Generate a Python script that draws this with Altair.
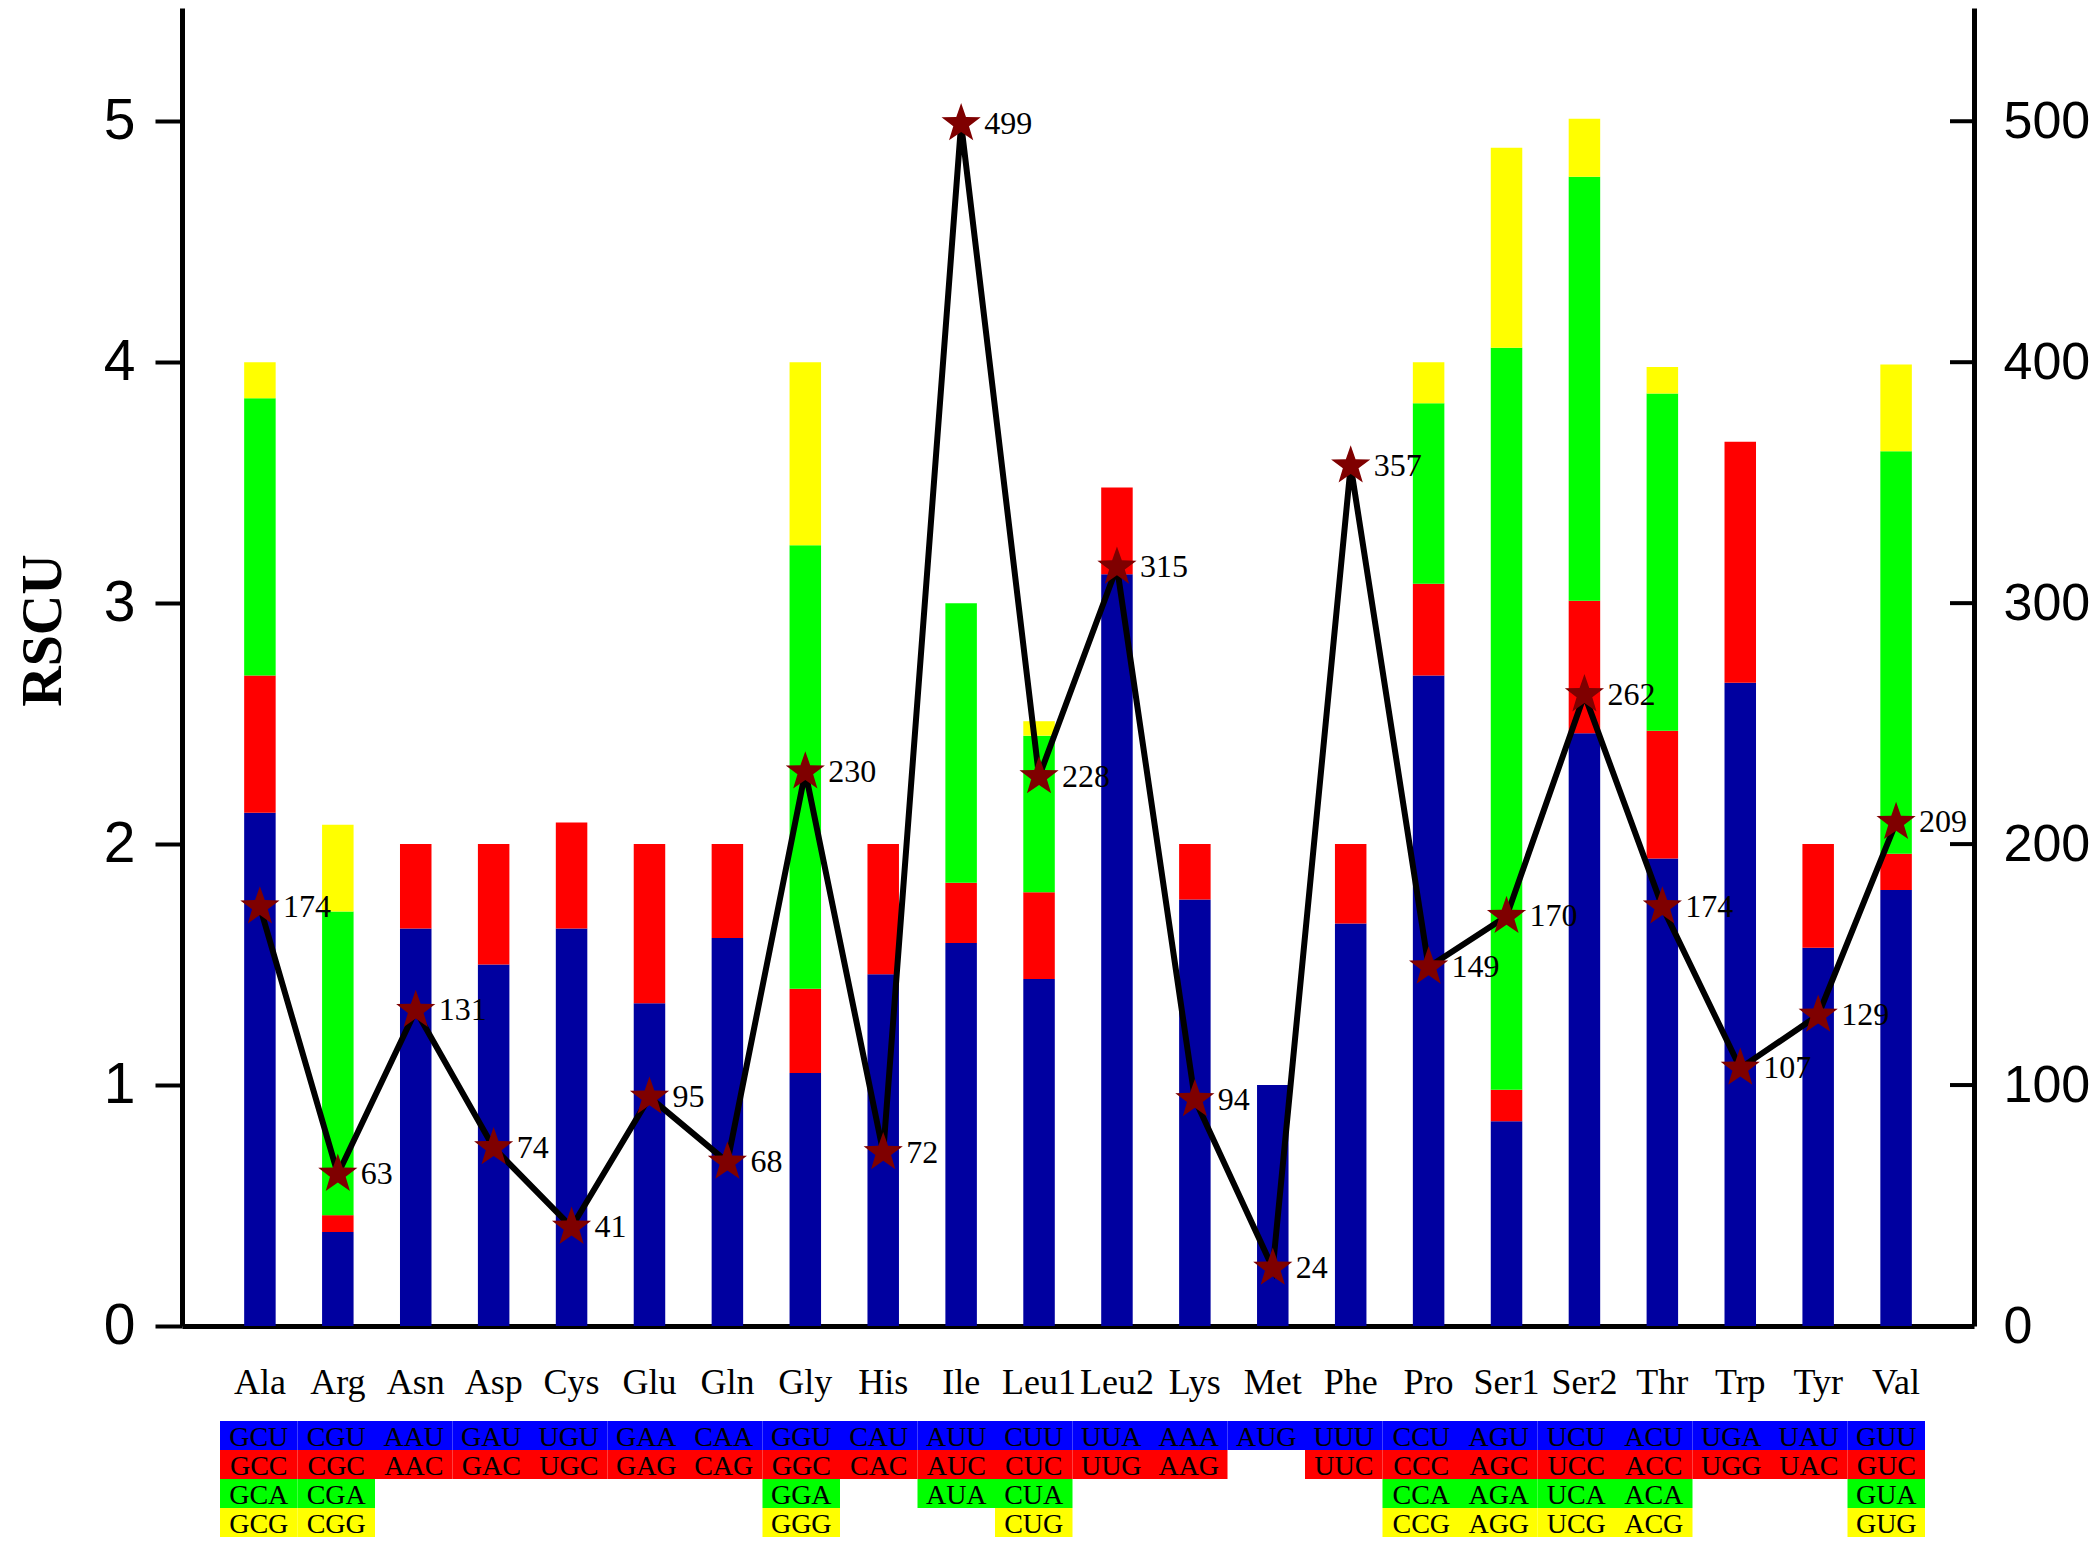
import math
import altair as alt
import pandas as pd

amino_acids = ["Ala", "Arg", "Asn", "Asp", "Cys", "Glu", "Gln", "Gly", "His", "Ile",
               "Leu1", "Leu2", "Lys", "Met", "Phe", "Pro", "Ser1", "Ser2", "Thr",
               "Trp", "Tyr", "Val"]

codons_1 = ["GCU", "CGU", "AAU", "GAU", "UGU", "GAA", "CAA", "GGU", "CAU", "AUU", "CUU",
            "UUA", "AAA", "AUG", "UUU", "CCU", "AGU", "UCU", "ACU", "UGA", "UAU", "GUU"]
codons_2 = ["GCC", "CGC", "AAC", "GAC", "UGC", "GAG", "CAG", "GGC", "CAC", "AUC", "CUC",
            "UUG", "AAG", "", "UUC", "CCC", "AGC", "UCC", "ACC", "UGG", "UAC", "GUC"]
codons_3 = ["GCA", "CGA", "", "", "", "", "", "GGA", "", "AUA", "CUA",
            "", "", "", "", "CCA", "AGA", "UCA", "ACA", "", "", "GUA"]
codons_4 = ["GCG", "CGG", "", "", "", "", "", "GGG", "", "", "CUG",
            "", "", "", "", "CCG", "AGG", "UCG", "ACG", "", "", "GUG"]

rscu_1 = [2.13, 0.39, 1.65, 1.50, 1.65, 1.34, 1.61, 1.05, 1.46, 1.59, 1.44,
          3.12, 1.77, 1.00, 1.67, 2.70, 0.85, 2.46, 1.94, 2.67, 1.57, 1.81]
rscu_2 = [0.57, 0.07, 0.35, 0.50, 0.44, 0.66, 0.39, 0.35, 0.54, 0.25, 0.36,
          0.36, 0.23, 0.00, 0.33, 0.38, 0.13, 0.55, 0.53, 1.00, 0.43, 0.15]
rscu_3 = [1.15, 1.26, 0, 0, 0, 0, 0, 1.84, 0, 1.16, 0.65,
          0, 0, 0, 0, 0.75, 3.08, 1.76, 1.40, 0, 0, 1.67]
rscu_4 = [0.15, 0.36, 0, 0, 0, 0, 0, 0.76, 0, 0, 0.06,
          0, 0, 0, 0, 0.17, 0.83, 0.24, 0.11, 0, 0, 0.36]

counts = [174, 63, 131, 74, 41, 95, 68, 230, 72, 499, 228,
          315, 94, 24, 357, 149, 170, 262, 174, 107, 129, 209]

right_ticks = [0, 100, 200, 300, 400, 500]
left_ticks = [0, 1, 2, 3, 4, 5]

bar_colors = ["#0000A0", "#FF0000", "#00FF00", "#FFFF00"]
table_colors = ["#0000FF", "#FF0000", "#00FF00", "#FFFF00"]

codon_rows = [codons_1, codons_2, codons_3, codons_4]
rscu_rows = [rscu_1, rscu_2, rscu_3, rscu_4]

bar_records, tab_records = [], []
for i, aa in enumerate(amino_acids):
    for p in range(4):
        if rscu_rows[p][i] > 0:
            bar_records.append({"aa": aa, "pos": p, "rscu": rscu_rows[p][i]})
        if codon_rows[p][i]:
            tab_records.append({"aa2": aa, "row": p, "codon": codon_rows[p][i]})
bar_df = pd.DataFrame(bar_records)
tab_df = pd.DataFrame(tab_records)
cnt_df = pd.DataFrame({"aa": amino_acids, "count": counts})
tick_df = pd.DataFrame({"v": right_ticks})

# five-pointed star symbol path in the unit box
pts = []
for k in range(10):
    ang = -math.pi / 2 + k * math.pi / 5
    r = 1.0 if k % 2 == 0 else 0.40
    pts.append(f"{r * math.cos(ang):.4f},{r * math.sin(ang):.4f}")
star_path = "M" + " L".join(pts) + " Z"

W, H = 1792, 1318

xs = alt.X("aa:N", sort=amino_acids,
           scale=alt.Scale(domain=amino_acids, paddingInner=0, paddingOuter=0.5),
           axis=alt.Axis(title=None, labelAngle=0, labelFont="Liberation Serif",
                         labelFontSize=36, labelColor="black", labelPadding=67,
                         labelBaseline="alphabetic", ticks=False, tickSize=0,
                         domainColor="black", domainWidth=5, grid=False))

left_axis = alt.Axis(values=left_ticks, title="RSCU", titleFont="Liberation Serif",
                     titleFontWeight="bold", titleFontSize=56, titleColor="black",
                     titlePadding=31, titleY=622, labelFont="Liberation Sans",
                     labelFontSize=57, labelColor="black", labelPadding=20,
                     tickSize=27, tickWidth=4, tickColor="black",
                     domainColor="black", domainWidth=5, grid=False)

bars = alt.Chart(bar_df).mark_bar(width=31.5).encode(
    x=xs,
    y=alt.Y("rscu:Q", stack="zero",
            scale=alt.Scale(domain=[0, 5.47], nice=False), axis=left_axis),
    color=alt.Color("pos:N", scale=alt.Scale(domain=[0, 1, 2, 3], range=bar_colors),
                    legend=None),
    order=alt.Order("pos:Q", sort="ascending"),
)

right_scale = alt.Scale(domain=[0, 547], nice=False)
right_axis = alt.Axis(orient="right", values=right_ticks, title=None, ticks=False,
                      tickSize=0, labelPadding=29, labelFont="Liberation Sans",
                      labelFontSize=52, labelColor="black", domainColor="black",
                      domainWidth=5, grid=False)

rticks = alt.Chart(tick_df).mark_rule(color="black", strokeWidth=4).encode(
    x=alt.value(W - 24), x2=alt.value(W),
    y=alt.Y("v:Q", scale=right_scale, axis=right_axis))
line = alt.Chart(cnt_df).mark_line(color="black", strokeWidth=6).encode(
    x=xs, y=alt.Y("count:Q", scale=right_scale, axis=right_axis))
stars = alt.Chart(cnt_df).mark_point(shape=star_path, filled=True, size=1700,
                                     color="#7F0000", opacity=1, strokeWidth=0).encode(
    x=xs, y=alt.Y("count:Q", scale=right_scale, axis=right_axis))
labels = alt.Chart(cnt_df).mark_text(align="left", baseline="middle", dx=23,
                                     font="Liberation Serif", fontSize=32,
                                     color="black").encode(
    x=xs, y=alt.Y("count:Q", scale=right_scale, axis=right_axis), text="count:Q")

right = alt.layer(rticks, line, stars, labels)
top = alt.layer(bars, right).resolve_scale(y="independent").properties(width=W, height=H)

tbase = alt.Chart(tab_df).encode(
    x=alt.X("aa2:N", scale=alt.Scale(domain=amino_acids, range=[38, 1743],
                                     paddingInner=0, paddingOuter=0), axis=None),
    y=alt.Y("row:O", scale=alt.Scale(domain=[0, 1, 2, 3], paddingInner=0,
                                     paddingOuter=0), axis=None))
rects = tbase.mark_rect().encode(
    color=alt.Color("row:N", scale=alt.Scale(domain=[0, 1, 2, 3], range=table_colors),
                    legend=None))
texts = tbase.mark_text(font="Liberation Serif", fontSize=28, color="black",
                        baseline="middle", dy=2).encode(text="codon:N")
table = alt.layer(rects, texts).properties(width=W, height=116)

chart = alt.vconcat(top, table, spacing=21).resolve_scale(
    x="independent", color="independent").properties(
    padding={"left": 7, "top": 0, "right": 0, "bottom": 0}
).configure(background="white").configure_view(stroke=None, strokeWidth=0)

chart.save("out.html", embed_options={"renderer": "svg", "actions": False})
